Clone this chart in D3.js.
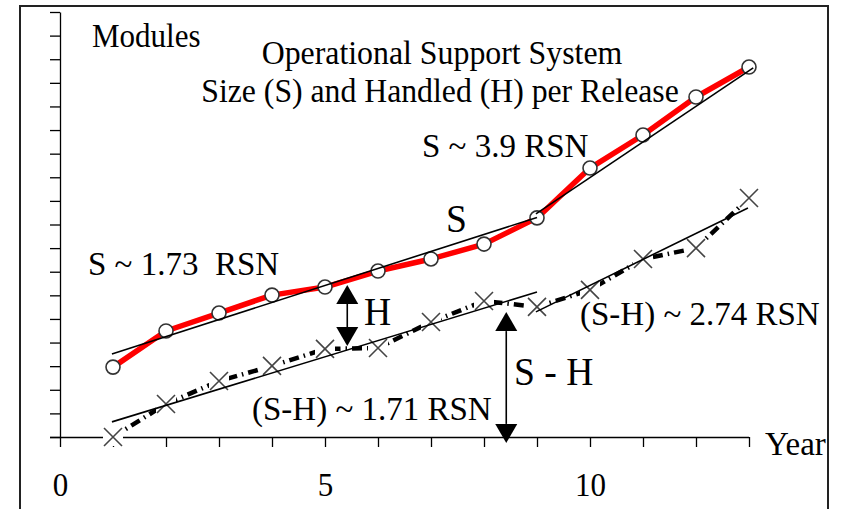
<!DOCTYPE html>
<html>
<head>
<meta charset="utf-8">
<script src="https://cdn.jsdelivr.net/npm/d3@7"></script>
<style>
  body { margin: 0; background: #fff; }
  svg { display: block; }
  text { font-family: "Liberation Serif", "Times New Roman", serif; fill: #000; }
</style>
</head>
<body>
<svg id="chart" width="842" height="509"></svg>
<script>
// Release year and module counts (axis units) per release
const years   = [1, 2, 3, 4, 5, 6, 7, 8, 9, 10, 11, 12, 13];
const sizeS   = [2.96, 4.49, 5.25, 6.01, 6.35, 7.03, 7.54, 8.17, 9.28, 11.39, 12.79, 14.40, 15.67];
const sMinusH = [0.00, 1.40, 2.37, 3.01, 3.73, 3.77, 4.87, 5.76, 5.51, 6.23, 7.54, 8.00, 10.12];

// Straight-line fits for the two growth phases
const fitSEarly  = [[0.98, 3.52], [9.00, 9.30]];
const fitSLate   = [[8.98, 9.45], [13.08, 15.63]];
const fitSHEarly = [[0.98, 0.64], [9.00, 6.14]];
const fitSHLate  = [[8.98, 5.30], [12.98, 9.70]];

// Double-headed arrows: [year, top value, bottom value]
const arrowH  = [5.42, 6.44, 3.85];
const arrowSH = [8.42, 5.29, -0.25];

const xTicks = d3.range(0, 14);
const yTicks = d3.range(0, 19);
const xLabels = [0, 5, 10];

const svg = d3.select("#chart");
const x = d3.scaleLinear().domain([0, 13]).range([60, 749]);
const y = d3.scaleLinear().domain([0, 18]).range([437, 12]);

// outer frame
svg.append("rect")
  .attr("x", 20).attr("y", 6).attr("width", 808).attr("height", 520)
  .attr("fill", "none").attr("stroke", "#222").attr("stroke-width", 2);

// axes
const yAxis = svg.append("g").attr("transform", `translate(${x(0)},0)`)
  .call(d3.axisLeft(y).tickValues(yTicks).tickSize(10).tickSizeOuter(0).tickFormat(""));
const xAxis = svg.append("g").attr("transform", `translate(0,${y(0)})`)
  .call(d3.axisBottom(x).tickValues(xTicks).tickSize(10).tickSizeOuter(0)
    .tickFormat(d => xLabels.includes(d) ? d : ""));
[yAxis, xAxis].forEach(g => {
  g.selectAll("path, line").attr("stroke", "#000").attr("stroke-width", 1.3);
});
xAxis.select(".domain").attr("d", `M${x(0) - 10},0.5H${x(13)}`);
xAxis.selectAll("text")
  .attr("y", 0).attr("dy", 0)
  .attr("transform", "translate(0,59) scale(0.94,1)")
  .style("font-family", '"Liberation Serif", "Times New Roman", serif')
  .style("font-size", "33px").attr("fill", "#000");

const line = d3.line().x(d => x(d[0])).y(d => y(d[1]));

const sPts = years.map((yr, i) => [yr, sizeS[i]]);
const shPts = years.map((yr, i) => [yr, sMinusH[i]]);

// S: total size per release
svg.append("path").attr("d", line(sPts))
  .attr("fill", "none").attr("stroke", "#ff0000").attr("stroke-width", 5.5)
  .attr("stroke-linejoin", "round");

// S - H: dash-dot series
svg.append("path").attr("d", line(shPts))
  .attr("fill", "none").attr("stroke", "#000").attr("stroke-width", 4.5)
  .attr("stroke-dasharray", "10,5,1.5,5");

// markers
svg.selectAll(".sDot").data(sPts).join("circle")
  .attr("cx", d => x(d[0])).attr("cy", d => y(d[1])).attr("r", 7)
  .attr("fill", "#fff").attr("stroke", "#333").attr("stroke-width", 1.6);

const cross = svg.selectAll(".shMark").data(shPts).join("g")
  .attr("transform", d => `translate(${x(d[0])},${y(d[1])})`);
cross.append("rect").attr("x", -10).attr("y", -9).attr("width", 20).attr("height", 18)
  .attr("fill", "#fff");
cross.append("path").attr("d", "M-9,-9L9,9M-9,9L9,-9")
  .attr("stroke", "#444").attr("stroke-width", 1.6);

// fit lines
[fitSEarly, fitSLate, fitSHEarly, fitSHLate].forEach(f => {
  svg.append("path").attr("d", line(f))
    .attr("fill", "none").attr("stroke", "#000").attr("stroke-width", 1.6);
});

// double-headed arrows
function arrow([yr, top, bottom]) {
  const ax = x(yr), y1 = y(top), y2 = y(bottom);
  const hw = 11, hh = 19;
  svg.append("line").attr("x1", ax).attr("x2", ax).attr("y1", y1 + hh).attr("y2", y2 - hh)
    .attr("stroke", "#000").attr("stroke-width", 1.6);
  svg.append("path").attr("d", `M${ax},${y1}L${ax + hw},${y1 + hh}L${ax - hw},${y1 + hh}Z`).attr("fill", "#000");
  svg.append("path").attr("d", `M${ax},${y2}L${ax + hw},${y2 - hh}L${ax - hw},${y2 - hh}Z`).attr("fill", "#000");
}
arrow(arrowH);
arrow(arrowSH);

// labels: k is the horizontal scaling of each serif label
const labels = [
  { t: "Modules", x: 92, y: 47, s: 33, k: 0.94 },
  { t: "Operational Support System", x: 442, y: 64, s: 33, k: 0.965, a: "middle" },
  { t: "Size (S) and Handled (H) per Release", x: 440, y: 102, s: 33, k: 0.962, a: "middle" },
  { t: "S ~ 3.9 RSN", x: 422, y: 157, s: 33, k: 1 },
  { t: "S", x: 446, y: 232, s: 40, k: 0.94 },
  { t: "S ~ 1.73\u00a0 RSN", x: 88, y: 275, s: 33, k: 1 },
  { t: "H", x: 364, y: 325, s: 40, k: 0.94 },
  { t: "(S-H) ~ 2.74 RSN", x: 580, y: 325, s: 33, k: 1 },
  { t: "S - H", x: 514, y: 385, s: 40, k: 0.94 },
  { t: "(S-H) ~ 1.71 RSN", x: 252, y: 420, s: 33, k: 1 },
  { t: "Year", x: 765, y: 455, s: 33, k: 1 }
];
svg.selectAll(".lbl").data(labels).join("text")
  .attr("transform", d => `translate(${d.x},${d.y}) scale(${d.k},1)`)
  .attr("text-anchor", d => d.a || "start")
  .style("font-size", d => d.s + "px")
  .text(d => d.t);
</script>
</body>
</html>
